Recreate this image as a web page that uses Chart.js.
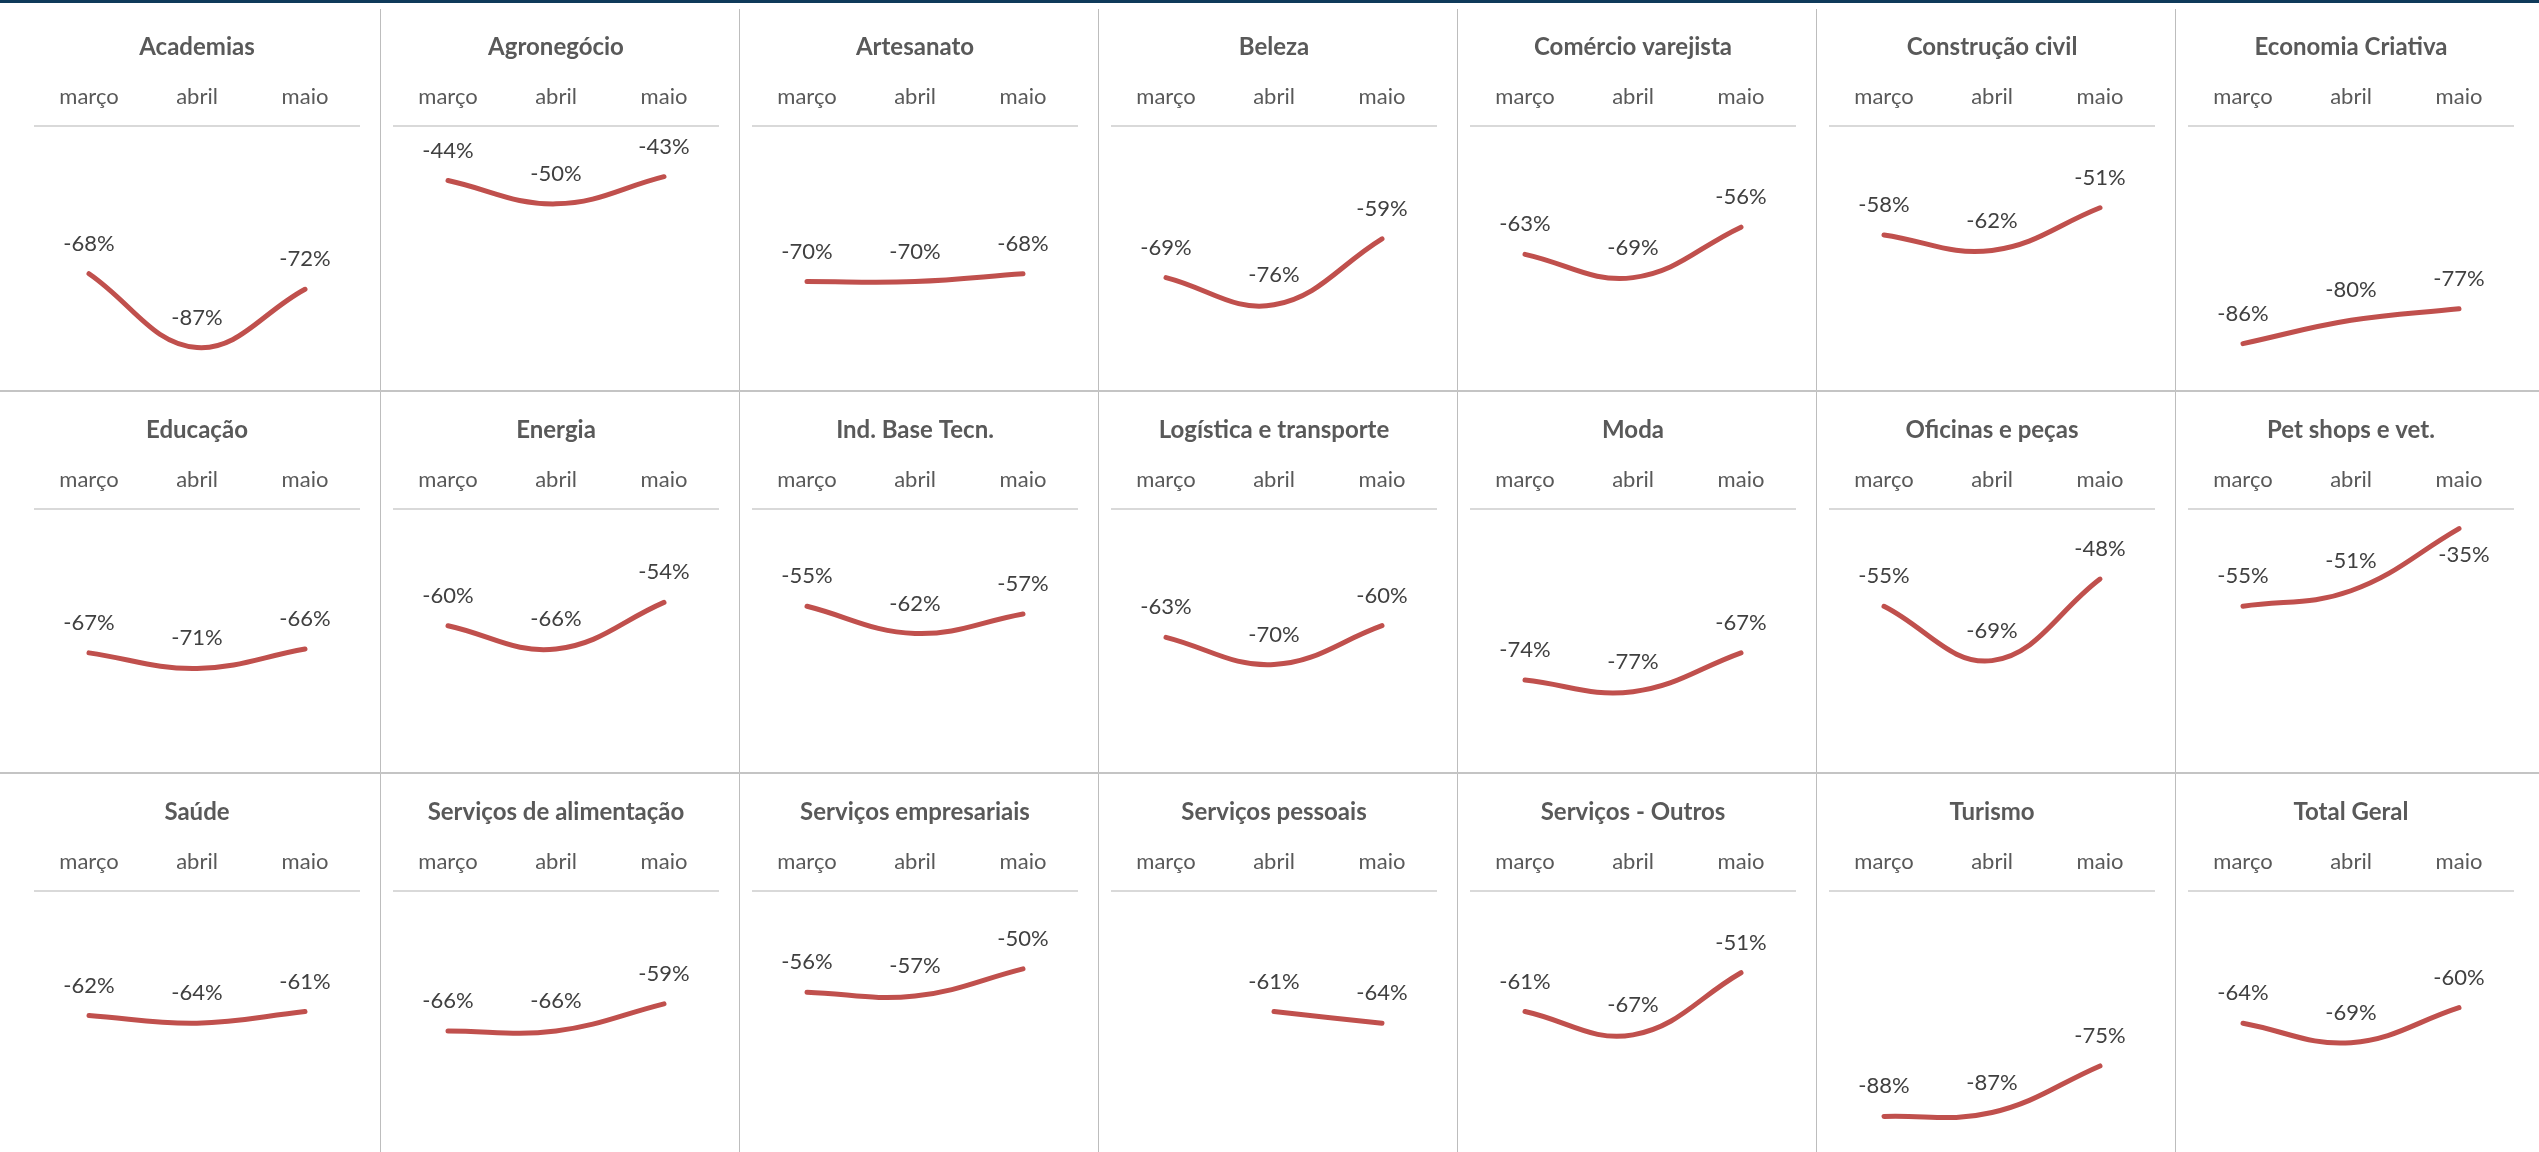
<!DOCTYPE html>
<html lang="pt-BR">
<head>
<meta charset="utf-8">
<title>Variação por setor</title>
<script src="https://cdn.jsdelivr.net/npm/chart.js@4.4.1/dist/chart.umd.min.js"></script>
<style>
  html, body { margin: 0; padding: 0; background: #fff; overflow: hidden; }
  #board { position: relative; width: 2539px; height: 1152px; }
  .topbar { position: absolute; left: 0; top: 0; width: 2539px; height: 3px; background: #0f3a5a; }
  .vline { position: absolute; top: 9px; bottom: 0; width: 1px; background: #bdbdbd; }
  .hline { position: absolute; left: 0; width: 2539px; height: 2px; background: #c4c4c4; }
  .panel { position: absolute; width: 359px; height: 390px; }
</style>
</head>
<body>
<div id="board"><div class="topbar"></div></div>
<script>
const months = ["março", "abril", "maio"];

const sectors = [
  "Academias", "Agronegócio", "Artesanato", "Beleza", "Comércio varejista", "Construção civil", "Economia Criativa",
  "Educação", "Energia", "Ind. Base Tecn.", "Logística e transporte", "Moda", "Oficinas e peças", "Pet shops e vet.",
  "Saúde", "Serviços de alimentação", "Serviços empresariais", "Serviços pessoais", "Serviços - Outros", "Turismo", "Total Geral"
];

// variação (%) por mês, na mesma ordem dos setores
const marco = [-68, -44, -70, -69, -63, -58, -86, -67, -60, -55, -63, -74, -55, -55, -62, -66, -56, null, -61, -88, -64];
const abril = [-87, -50, -70, -76, -69, -62, -80, -71, -66, -62, -70, -77, -69, -51, -64, -66, -57, -61, -67, -87, -69];
const maio  = [-72, -43, -68, -59, -56, -51, -77, -66, -54, -57, -60, -67, -48, -35, -61, -59, -50, -64, -51, -75, -60];

const yMin = -100;
const yMax = -30;

const COLS = 7;
const CELL_W = 359;
const CELL_H = 382.5;
const LEFT0 = 21;
const TOP0 = 8;

Chart.defaults.font.family = "Lato, 'Open Sans', sans-serif";

const pointLabels = {
  id: "pointLabels",
  afterDatasetsDraw(chart) {
    const { ctx, chartArea } = chart;
    const values = chart.data.datasets[0].data;
    const meta = chart.getDatasetMeta(0);
    ctx.save();
    ctx.font = "22px Lato, 'Open Sans', sans-serif";
    ctx.fillStyle = "#404040";
    ctx.textAlign = "center";
    ctx.textBaseline = "middle";
    meta.data.forEach((pt, i) => {
      const v = values[i];
      if (v === null || v === undefined) return;
      let x = pt.x;
      let y = pt.y - 30;
      // no room above the point: put the label under it, like Excel does
      if (y < chartArea.top + 14) {
        x += 5;
        y = pt.y + 26;
      }
      ctx.fillText(`${v}%`, x, y);
    });
    ctx.restore();
  },
};

function makePanel(idx) {
  const board = document.getElementById("board");
  const col = idx % COLS;
  const row = Math.floor(idx / COLS);

  const panel = document.createElement("div");
  panel.className = "panel";
  panel.style.left = `${LEFT0 + col * CELL_W}px`;
  panel.style.top = `${Math.round(TOP0 + row * CELL_H)}px`;
  const canvas = document.createElement("canvas");
  canvas.width = 359;
  canvas.height = 390;
  panel.appendChild(canvas);
  board.appendChild(panel);

  new Chart(canvas, {
    type: "line",
    data: {
      labels: months,
      datasets: [{
        data: [marco[idx], abril[idx], maio[idx]],
        borderColor: "#c0504d",
        borderWidth: 5,
        borderCapStyle: "round",
        borderJoinStyle: "round",
        tension: 0.4,
        pointRadius: 0,
        fill: false,
      }],
    },
    options: {
      responsive: false,
      animation: false,
      events: [],
      layout: { padding: { left: 14, right: 21, top: 0, bottom: 0 } },
      plugins: {
        legend: { display: false },
        tooltip: { enabled: false },
        title: {
          display: true,
          text: sectors[idx],
          color: "#595959",
          font: { size: 24, weight: "bold" },
          padding: { top: 25, bottom: 6 },
        },
      },
      scales: {
        x: {
          position: "top",
          offset: true,
          grid: { display: false, drawTicks: false },
          border: { display: true, color: "#d9d9d9", width: 2 },
          ticks: { color: "#595959", font: { size: 22 }, padding: 16, maxRotation: 0 },
        },
        y: {
          display: false,
          min: yMin,
          max: yMax,
        },
      },
    },
    plugins: [pointLabels],
  });
}

// grid lines between panels
for (let c = 1; c < COLS; c++) {
  const v = document.createElement("div");
  v.className = "vline";
  v.style.left = `${LEFT0 + c * CELL_W}px`;
  document.getElementById("board").appendChild(v);
}
for (let r = 1; r < 3; r++) {
  const h = document.createElement("div");
  h.className = "hline";
  h.style.top = `${Math.round(TOP0 + r * CELL_H - 1)}px`;
  document.getElementById("board").appendChild(h);
}

sectors.forEach((_, i) => makePanel(i));
</script>
</body>
</html>
